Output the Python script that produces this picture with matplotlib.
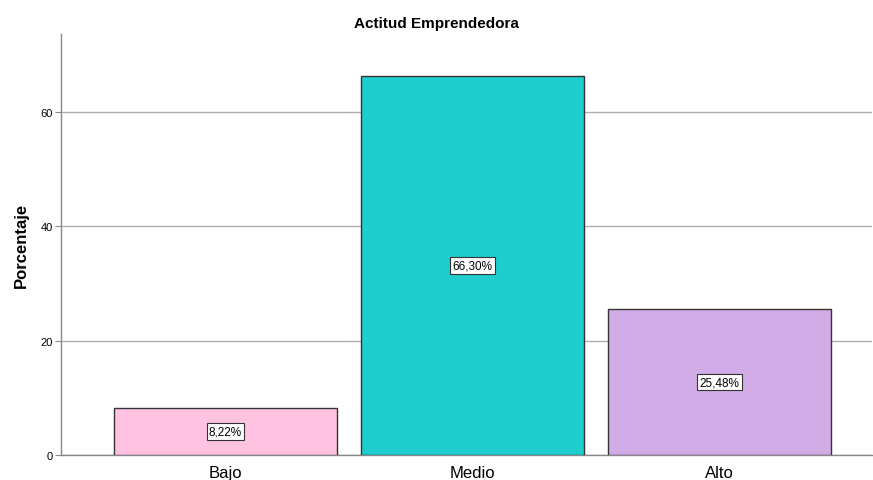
import matplotlib.pyplot as plt

categories = ["Bajo", "Medio", "Alto"]
percentages = [8.22, 66.30, 25.48]
labels = ["8,22%", "66,30%", "25,48%"]
colors = ["#FFC2E1", "#1ECECE", "#D1ABE5"]

plt.rcParams["font.family"] = ["Liberation Sans", "DejaVu Sans"]

fig = plt.figure(figsize=(8.73, 4.81), dpi=100)
ax = fig.add_axes([61 / 873, 25 / 481, 811 / 873, 421 / 481])

x = list(range(len(categories)))
ax.bar(x, percentages, width=0.903, color=colors, edgecolor="#333333", linewidth=1, zorder=3)

for xi, val, lab in zip(x, percentages, labels):
    ax.text(xi, val / 2, lab, ha="center", va="center", fontsize=8.5, zorder=4,
            bbox=dict(boxstyle="square,pad=0.2", facecolor="white", edgecolor="#333333", linewidth=0.8))

ax.set_xlim(-0.666, 2.617)
ax.set_ylim(0, 73.6)
ax.set_yticks([0, 20, 40, 60])
ax.set_xticks(x)
ax.set_xticklabels(categories, fontsize=12)
ax.tick_params(axis="y", labelsize=8, length=4, color="#888888", pad=2)
ax.tick_params(axis="x", length=0, pad=7)
ax.yaxis.grid(True, color="#b0b0b0", linewidth=1, zorder=0)

for side in ["top", "right"]:
    ax.spines[side].set_visible(False)
for side in ["left", "bottom"]:
    ax.spines[side].set_color("#888888")
    ax.spines[side].set_linewidth(1)

ax.set_ylabel("Porcentaje", fontsize=12, fontweight="bold", labelpad=8)
fig.suptitle("Actitud Emprendedora", fontsize=11, fontweight="bold", y=0.965)

fig.savefig("out.png", dpi=100)
